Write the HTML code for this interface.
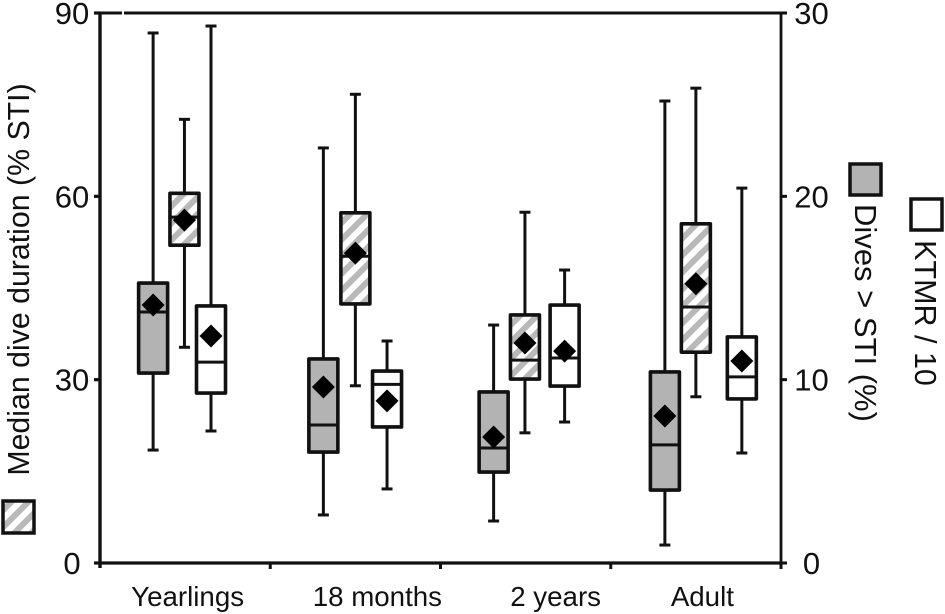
<!DOCTYPE html>
<html lang="en">
<head>
<meta charset="utf-8">
<title>Dive duration box plots</title>
<style>
html,body{margin:0;padding:0;background:#fff;width:945px;height:614px;overflow:hidden}
svg{display:block}
text{font-family:"Liberation Sans",sans-serif;fill:#111}
</style>
</head>
<body>
<svg id="chart" xmlns="http://www.w3.org/2000/svg" width="945" height="614" viewBox="0 0 945 614">
  <defs>
    <pattern id="hatch" width="12" height="12" patternUnits="userSpaceOnUse" patternTransform="rotate(45)">
      <rect width="12" height="12" fill="#fff"/>
      <rect x="0" width="6" height="12" fill="#b9b9b9"/>
    </pattern>
  </defs>
  <g id="axes"></g>
  <g id="marks"></g>

  <text transform="translate(29,279.5) rotate(-90)" text-anchor="middle" font-size="30.3">Median dive duration (% STI)</text>
  <text transform="translate(855,313) rotate(90)" text-anchor="middle" font-size="31">Dives &gt; STI (%)</text>
  <text transform="translate(915,313) rotate(90)" text-anchor="middle" font-size="30.5">KTMR / 10</text>

  <rect x="3" y="501" width="31" height="32" fill="url(#hatch)" stroke="#111" stroke-width="3.5"/>
  <rect x="850" y="164" width="31" height="31" fill="#b3b3b3" stroke="#111" stroke-width="3.5"/>
  <rect x="911" y="199" width="31" height="31" fill="#fff" stroke="#111" stroke-width="3.5"/>
</svg>
<script>
// Categories and tick labels
const categories = ["Yearlings", "18 months", "2 years", "Adult"];
const leftTicks = [0, 30, 60, 90];
const rightTicks = [0, 10, 20, 30];

// Dives > STI (%) - right axis
const divesHigh   = [28.91, 22.64, 12.98, 25.20];
const divesQ3     = [15.27, 11.13,  9.33, 10.42];
const divesMedian = [13.69,  7.53,  6.27,  6.44];
const divesQ1     = [10.36,  6.05,  4.96,  3.98];
const divesLow    = [ 6.16,  2.62,  2.29,  0.98];
const divesMean   = [14.07,  9.60,  6.87,  8.02];

// Median dive duration (% STI) - left axis
const durationHigh   = [72.6, 76.7, 57.4, 77.7];
const durationQ3     = [60.5, 57.3, 40.6, 55.5];
const durationMedian = [56.6, 50.2, 33.2, 41.9];
const durationQ1     = [52.0, 42.4, 30.1, 34.5];
const durationLow    = [35.3, 29.0, 21.3, 27.2];
const durationMean   = [56.1, 50.7, 36.0, 45.7];

// KTMR / 10 - right axis
const ktmrHigh   = [29.29, 12.11, 15.98, 20.45];
const ktmrQ3     = [14.02, 10.47, 14.07, 12.33];
const ktmrMedian = [10.96,  9.74, 11.18, 10.15];
const ktmrQ1     = [ 9.27,  7.42,  9.65,  8.95];
const ktmrLow    = [ 7.20,  4.04,  7.69,  6.00];
const ktmrMean   = [12.38,  8.84, 11.56, 11.02];

// Axis functions
const NS = "http://www.w3.org/2000/svg";
const plot = { left: 100, right: 781, top: 13, bottom: 563 };
const yLeft = v => plot.bottom - (v / 90) * (plot.bottom - plot.top);
const yRight = v => plot.bottom - (v / 30) * (plot.bottom - plot.top);
const bandWidth = (plot.right - plot.left) / categories.length;
const bandCenter = i => plot.left + bandWidth * (i + 0.5);

// Horizontal box placement within each band, in band fractions (reference is hand-laid)
const slotDives = i => [-0.188, -0.188, -0.188, -0.182][i];
const slotDuration = i => [-0.004, 0, -0.004, 0][i];
const slotKtmr = i => [0.152, 0.186, 0.229, 0.27][i];

const axes = document.getElementById("axes");
const marks = document.getElementById("marks");

function add(parent, tag, attrs) {
  const el = document.createElementNS(NS, tag);
  for (const k in attrs) el.setAttribute(k, attrs[k]);
  parent.appendChild(el);
  return el;
}
const INK = "#111";

// Axis frame
const leftAxis = add(axes, "line", { x1: plot.left, x2: plot.left, y1: plot.top - 1.5, y2: plot.bottom + 5, stroke: INK, "stroke-width": 3.4 });


const rightAxis = add(axes, "line", { x1: plot.right, x2: plot.right, y1: plot.top - 1.5, y2: plot.bottom + 5, stroke: INK, "stroke-width": 2.8 });


const xAxis = add(axes, "line", { x1: plot.left, x2: plot.right, y1: plot.bottom, y2: plot.bottom, stroke: INK, "stroke-width": 3.2 });


const topSegA = add(axes, "line", { x1: plot.left, x2: 122, y1: plot.top, y2: plot.top, stroke: INK, "stroke-width": 3 });


const topSegB = add(axes, "line", { x1: 124, x2: plot.right, y1: plot.top, y2: plot.top, stroke: INK, "stroke-width": 3 });



// Left ticks and labels
leftTicks.forEach(t => {
  const tick = add(axes, "line", { x1: plot.left - 6, x2: plot.left, y1: yLeft(t), y2: yLeft(t), stroke: INK, "stroke-width": 3.2 });
  
  
  const label = add(axes, "text", { x: 72, y: yLeft(t) + 11, "text-anchor": "middle", "font-size": 31 });
  
  
  label.textContent = t;
});

// Right ticks and labels
rightTicks.forEach(t => {
  const tick = add(axes, "line", { x1: plot.right, x2: plot.right + 6, y1: yRight(t), y2: yRight(t), stroke: INK, "stroke-width": 3 });
  
  
  const label = add(axes, "text", { x: 811.5, y: yRight(t) + 11, "text-anchor": "middle", "font-size": 31 });
  
  
  label.textContent = t;
});

// Category ticks and labels
categories.forEach((c, i) => {
  const tx = plot.left + bandWidth * (i + 1);
  const tick = add(axes, "line", { x1: tx, x2: tx, y1: plot.bottom, y2: plot.bottom + 6, stroke: INK, "stroke-width": 3 });
  
  
  const label = add(axes, "text", { x: bandCenter(i) + [2.5, 22, 30, 6.5][i], y: 606, "text-anchor": "middle", "font-size": 27.7 });
  
  
  label.textContent = c;
});

// One box-and-whisker mark
function drawBox(parent, cx, w, y, hi, q3, med, q1, lo, mean, fill) {
  const capW = 5.5;
  const whisker = add(parent, "line", { x1: cx, x2: cx, y1: y(hi), y2: y(lo), stroke: INK, "stroke-width": 3 });
  
  
  const capTop = add(parent, "line", { x1: cx - capW, x2: cx + capW, y1: y(hi), y2: y(hi), stroke: INK, "stroke-width": 3 });
  
  
  const capBot = add(parent, "line", { x1: cx - capW, x2: cx + capW, y1: y(lo), y2: y(lo), stroke: INK, "stroke-width": 3 });
  
  
  const box = add(parent, "rect", { x: cx - w / 2, y: y(q3), width: w, height: y(q1) - y(q3), fill: fill, stroke: INK, "stroke-width": 3.6, "stroke-linejoin": "round" });
  
  
  const medianLine = add(parent, "line", { x1: cx - w / 2, x2: cx + w / 2, y1: y(med), y2: y(med), stroke: INK, "stroke-width": 3 });
  
  
  const r = 11.5, my = y(mean);
  const diamond = add(parent, "polygon", { points: `${cx - r},${my} ${cx},${my - r} ${cx + r},${my} ${cx},${my + r}`, fill: "#000" });
  
  
}

categories.forEach((c, i) => {
  const group = add(marks, "g", {});
  
  
  const center = bandCenter(i);
  drawBox(group, center + slotDives(i) * bandWidth, 29, yRight, divesHigh[i], divesQ3[i], divesMedian[i], divesQ1[i], divesLow[i], divesMean[i], "#b3b3b3");
  drawBox(group, center + slotDuration(i) * bandWidth, 29, yLeft, durationHigh[i], durationQ3[i], durationMedian[i], durationQ1[i], durationLow[i], durationMean[i], "url(#hatch)");
  drawBox(group, center + slotKtmr(i) * bandWidth, 29, yRight, ktmrHigh[i], ktmrQ3[i], ktmrMedian[i], ktmrQ1[i], ktmrLow[i], ktmrMean[i], "#fff");
});
</script>
</body>
</html>
